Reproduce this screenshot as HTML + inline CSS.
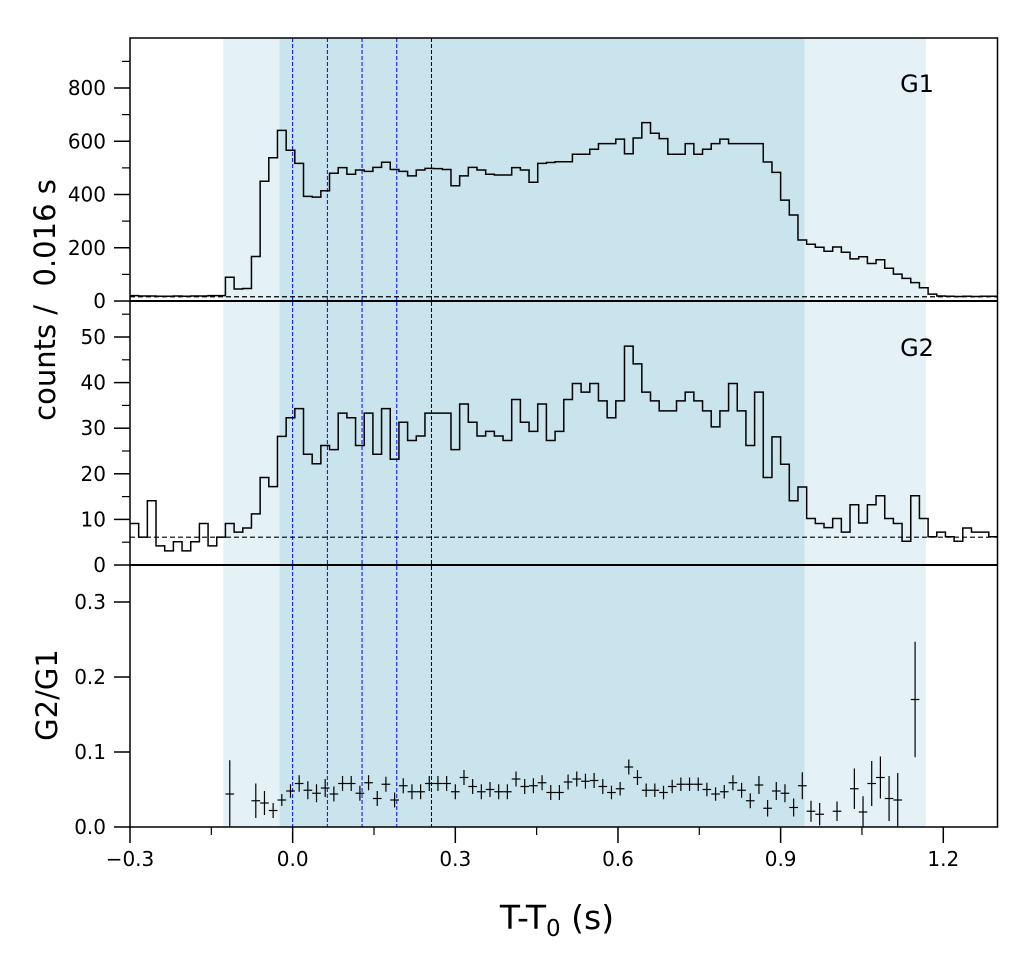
<!DOCTYPE html>
<html><head><meta charset="utf-8"><style>
html,body{margin:0;padding:0;background:#fff;}
svg text{font-family:"DejaVu Sans","Liberation Sans",sans-serif;fill:#000;}
</style></head><body>
<svg id="chart" width="1034" height="965" viewBox="0 0 1034 965" xmlns="http://www.w3.org/2000/svg"></svg>
<script>
// ---- data ----
const binStart = -0.3;
const binWidth = 0.016;
const g1Counts = [20,19,19,18,18,19,18,19,19,20,20,89,45,47,167,450,538,641,566,517,393,390,414,480,501,476,492,487,502,521,494,487,470,492,498,497,494,433,470,502,492,476,473,473,501,492,446,517,520,523,523,551,551,570,591,591,608,553,612,670,630,610,551,551,591,551,570,591,608,591,591,591,591,522,483,379,323,229,213,202,187,203,183,158,166,141,155,123,101,85,69,50,26,19,18,17,18,17,18,18];
const g2Counts = [9.1,6.1,14.1,4.2,3.1,5.1,3.1,5.1,9.1,4.2,6.1,9.1,7.2,8.1,11.2,19.2,17.2,28.2,32.3,34.3,24.3,22.2,26.2,25.3,33.3,32.3,26.2,33.3,24.3,34.3,23.2,31.3,27.3,28.3,33.3,33.3,33.3,25.3,35.3,31.3,28.3,29.3,28.3,27.3,36.3,31.3,29.3,35.3,27.3,29.3,36.3,39.8,37.9,39.8,36,32.3,36,48,44.1,37.9,36,33.8,33.8,36,37.9,36,33.8,30.3,33.8,39.8,33.8,26.2,37.9,19.2,28.1,22.1,14.1,17.1,10.2,9.1,8.2,10.2,7.2,13.2,9.2,13.2,15.2,10.2,9.1,5.2,15.2,10.2,6.2,7.2,6.2,5.2,8.1,7.2,7.2,6.2];
const g1Bkg = 16;
const g2Bkg = 6.1;
const ratioBins = [11,14,15,16,17,18,19,20,21,22,23,24,25,26,27,28,29,30,31,32,33,34,35,36,37,38,39,40,41,42,43,44,45,46,47,48,49,50,51,52,53,54,55,56,57,58,59,60,61,62,63,64,65,66,67,68,69,70,71,72,73,74,75,76,77,78,79,81,83,84,85,86,87,88,90];
const ratioVals = [0.044,0.035,0.032,0.022,0.036,0.048,0.058,0.049,0.045,0.052,0.044,0.058,0.058,0.045,0.059,0.038,0.057,0.036,0.055,0.047,0.047,0.058,0.058,0.058,0.047,0.066,0.054,0.047,0.050,0.047,0.047,0.064,0.054,0.055,0.059,0.046,0.046,0.060,0.064,0.061,0.062,0.054,0.046,0.051,0.080,0.066,0.049,0.049,0.046,0.054,0.057,0.057,0.057,0.050,0.044,0.047,0.059,0.049,0.035,0.056,0.025,0.048,0.045,0.026,0.055,0.021,0.017,0.021,0.051,0.020,0.058,0.066,0.038,0.036,0.170];
const ratioErrs = [0.045,0.023,0.016,0.010,0.008,0.009,0.011,0.012,0.012,0.012,0.010,0.010,0.010,0.010,0.010,0.010,0.010,0.010,0.010,0.010,0.010,0.010,0.010,0.010,0.010,0.010,0.010,0.010,0.010,0.010,0.010,0.010,0.010,0.010,0.010,0.010,0.010,0.010,0.010,0.010,0.010,0.010,0.009,0.009,0.010,0.010,0.009,0.009,0.009,0.009,0.009,0.009,0.009,0.009,0.009,0.009,0.010,0.010,0.010,0.012,0.011,0.012,0.012,0.012,0.018,0.014,0.015,0.013,0.027,0.021,0.030,0.028,0.030,0.036,0.077];
const xTicks = [-0.3,0.0,0.3,0.6,0.9,1.2];
const xTickLabels = ["\u22120.3","0.0","0.3","0.6","0.9","1.2"];
const g1Ticks = [0,200,400,600,800];
const g2Ticks = [0,10,20,30,40,50];
const ratioTicks = [0.0,0.1,0.2,0.3];
const ratioTickLabels = ["0.0","0.1","0.2","0.3"];
const lightRegion = [-0.128,1.168];
const darkRegion = [-0.024,0.944];
const blueLines = [0,0.064,0.128,0.192];
const blackLine = [0.256];

// ---- layout ----
const L=130, R=997.5, T=38, B=827, S1=301, S2=565;
const xMin=-0.3, xMax=1.3;
const X = v => L + (v-xMin)/(xMax-xMin)*(R-L);
const Y1 = v => S1 - v*0.26625;
const Y2 = v => S2 - v*4.56;
const Y3 = v => B - v*750;
const NS="http://www.w3.org/2000/svg";
const svg=document.getElementById('chart');
function mk(tag,attrs,parent){const e=document.createElementNS(NS,tag);for(const k in attrs)e.setAttribute(k,attrs[k]);(parent||svg).appendChild(e);return e;}

let e;
e=mk('rect',{x:X(lightRegion[0]),y:T,width:X(lightRegion[1])-X(lightRegion[0]),height:B-T,fill:'#e4f1f6'});


e=mk('rect',{x:X(darkRegion[0]),y:T,width:X(darkRegion[1])-X(darkRegion[0]),height:B-T,fill:'#c9e4ec'});



blueLines.forEach(v=>{
  e=mk('line',{x1:X(v),x2:X(v),y1:T,y2:B,stroke:'#0000ff','stroke-width':1,'stroke-dasharray':'4,2'});
  
  
});
blackLine.forEach(v=>{
  e=mk('line',{x1:X(v),x2:X(v),y1:T,y2:B,stroke:'#000','stroke-width':1,'stroke-dasharray':'4,2'});
  
  
});

function stepPath(arr,Yf){
  let d='';
  arr.forEach((v,i)=>{
    const x0=X(binStart+i*binWidth), x1=X(binStart+(i+1)*binWidth), y=Yf(v);
    d += (i===0?'M':'L')+x0.toFixed(2)+','+y.toFixed(2)+'L'+x1.toFixed(2)+','+y.toFixed(2);
  });
  return d;
}
e=mk('path',{d:stepPath(g1Counts,Y1),fill:'none',stroke:'#000','stroke-width':1.5});


e=mk('path',{d:stepPath(g2Counts,Y2),fill:'none',stroke:'#000','stroke-width':1.5});


e=mk('line',{x1:L,x2:R,y1:Y1(g1Bkg),y2:Y1(g1Bkg),stroke:'#000','stroke-width':1.2,'stroke-dasharray':'5,3'});


e=mk('line',{x1:L,x2:R,y1:Y2(g2Bkg),y2:Y2(g2Bkg),stroke:'#000','stroke-width':1.2,'stroke-dasharray':'5,3'});



ratioBins.forEach((b,i)=>{
  const xc=X(binStart+(b+0.5)*binWidth), x0=X(binStart+b*binWidth), x1=X(binStart+(b+1)*binWidth);
  const v=ratioVals[i], er=ratioErrs[i];
  const g=mk('g',{stroke:'#000','stroke-width':1.2});
  
  
  mk('line',{x1:x0,x2:x1,y1:Y3(v),y2:Y3(v)},g);
  mk('line',{x1:xc,x2:xc,y1:Y3(Math.min(v+er,0.349)),y2:Y3(Math.max(v-er,0))},g);
});

e=mk('rect',{x:L,y:T,width:R-L,height:B-T,fill:'none',stroke:'#000','stroke-width':1.5});


[S1,S2].forEach(y=>{
  e=mk('line',{x1:L,x2:R,y1:y,y2:y,stroke:'#000','stroke-width':2});
  
  
});

function yAxis(ticks,labels,Yf,minorStep,minorMax,name){
  ticks.forEach((v,i)=>{
    mk('line',{x1:L-16,x2:L,y1:Yf(v),y2:Yf(v),stroke:'#000','stroke-width':1.5});
    const t=mk('text',{x:L-24,y:Yf(v)+7,'text-anchor':'end','font-size':20});
    t.textContent=labels[i];
    
    
  });
  if(minorStep){
    for(let v=minorStep; v<minorMax; v+=minorStep*2){
      mk('line',{x1:L-8,x2:L,y1:Yf(v),y2:Yf(v),stroke:'#000','stroke-width':1.2});
    }
  }
}
yAxis(g1Ticks,g1Ticks.map(String),Y1,100,985,'g1-y');
yAxis(g2Ticks,g2Ticks.map(String),Y2,5,57,'g2-y');
yAxis(ratioTicks,ratioTickLabels,Y3,0,0,'ratio-y');

xTicks.forEach((v,i)=>{
  mk('line',{x1:X(v),x2:X(v),y1:B,y2:B+16,stroke:'#000','stroke-width':1.5});
  if(v+0.15<=xMax) mk('line',{x1:X(v+0.15),x2:X(v+0.15),y1:B,y2:B+8,stroke:'#000','stroke-width':1.2});
  const t=mk('text',{x:X(v),y:B+39,'text-anchor':'middle','font-size':20});
  t.textContent=xTickLabels[i];
  
  
});

function label(txt,x,y,size,rot,name){
  const t=mk('text',{x:x,y:y,'text-anchor':'middle','font-size':size});
  t.setAttribute('xml:space','preserve');
  t.style.whiteSpace='pre';
  if(rot) t.setAttribute('transform','rotate(-90 '+x+' '+y+')');
  t.textContent=txt;
  
  
  return t;
}
label('counts /  0.016 s',55,300,29,true,'y-axis-title-counts');
label('G2/G1',57,695,29,true,'y-axis-title-ratio');
const xl=label('',557,929,33,false,'x-axis-title');
xl.innerHTML='T-T<tspan font-size="23" dy="7">0</tspan><tspan dy="-7"> (s)</tspan>';
label('G1',917,92,24,false,'panel-label-g1');
label('G2',917,356,24,false,'panel-label-g2');
</script>
</body></html>
